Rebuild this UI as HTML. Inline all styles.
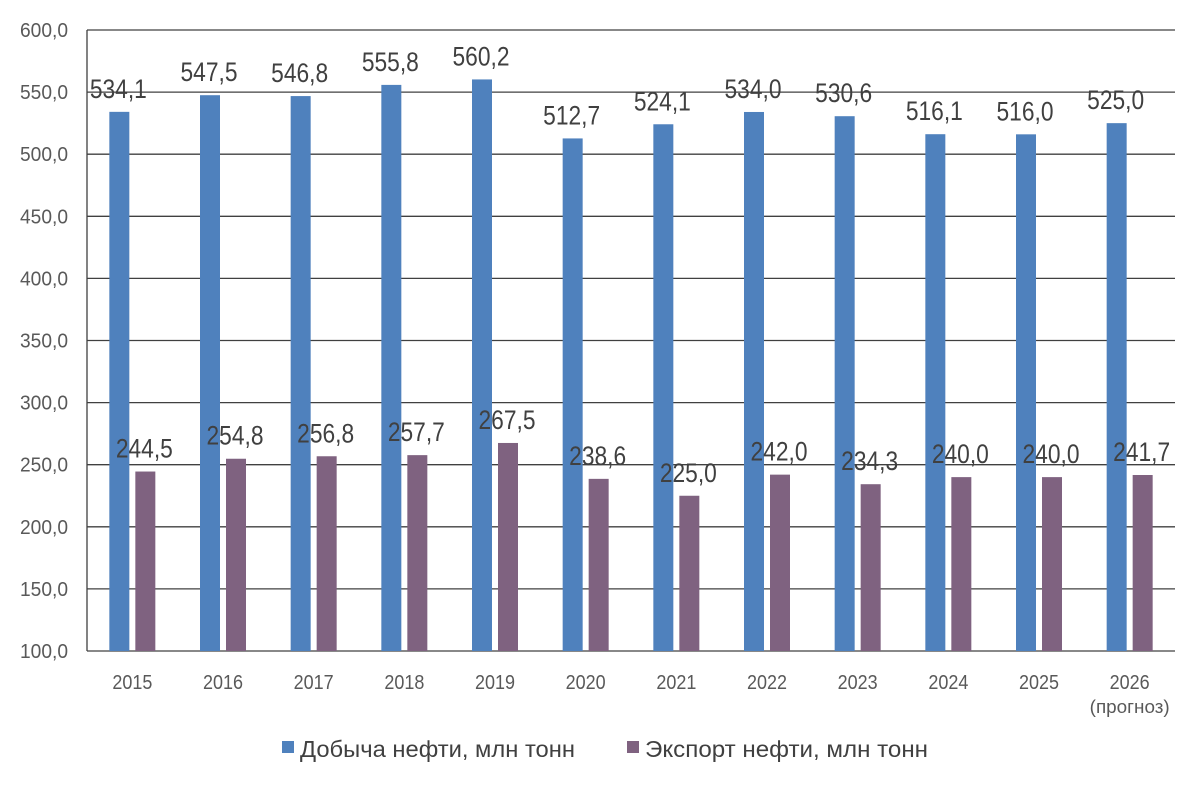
<!DOCTYPE html>
<html><head><meta charset="utf-8"><style>
html,body{margin:0;padding:0;background:#fff;}
svg{display:block;font-family:"Liberation Sans",sans-serif;}
</style></head><body>
<svg width="1200" height="790" xmlns="http://www.w3.org/2000/svg">
<g id="grid" stroke="#404040" stroke-width="1.3"></g>
<g id="bars"></g>
<g id="txt"></g>
<rect x="282" y="741" width="12" height="12" fill="#4f81bd"/>
<text x="300" y="757" font-size="23" fill="#404040" textLength="275" lengthAdjust="spacingAndGlyphs">Добыча нефти, млн тонн</text>
<rect x="627" y="741" width="12" height="12" fill="#7f6280"/>
<text x="645" y="757" font-size="23" fill="#404040" textLength="283" lengthAdjust="spacingAndGlyphs">Экспорт нефти, млн тонн</text>
<script>
var ns="http://www.w3.org/2000/svg";
function el(p,t,a,txt){var e=document.createElementNS(ns,t);for(var k in a)e.setAttribute(k,a[k]);if(txt)e.textContent=txt;document.getElementById(p).appendChild(e);return e;}
var L=87,R=1175,T=30,B=651;
function Y(v){return B-(v-100)*(B-T)/500;}
for(var v=100;v<=600;v+=50){var y=Y(v);el('grid','line',{x1:L,x2:R,y1:y,y2:y});
el('txt','text',{x:68,y:y+7,'font-size':20,fill:'#595959','text-anchor':'end',textLength:48,lengthAdjust:'spacingAndGlyphs'},v.toFixed(1).replace('.',','));}
el('grid','line',{x1:L,x2:L,y1:T,y2:B});
var p=[534.1,547.5,546.8,555.8,560.2,512.7,524.1,534.0,530.6,516.1,516.0,525.0];
var e=[244.5,254.8,256.8,257.7,267.5,238.6,225.0,242.0,234.3,240.0,240.0,241.7];
var w=(R-L)/12;
for(var i=0;i<12;i++){var c=L+w*i+w/2;
el('bars','rect',{x:c-23,y:Y(p[i]),width:20,height:B-Y(p[i]),fill:'#4f81bd'});
el('bars','rect',{x:c+3,y:Y(e[i]),width:20,height:B-Y(e[i]),fill:'#7f6280'});
el('txt','text',{x:c-14,y:Y(p[i])-14,'font-size':27,fill:'#404040','text-anchor':'middle',textLength:57,lengthAdjust:'spacingAndGlyphs'},p[i].toFixed(1).replace('.',','));
el('txt','text',{x:c+12,y:Y(e[i])-14,'font-size':27,fill:'#404040','text-anchor':'middle',textLength:57,lengthAdjust:'spacingAndGlyphs'},e[i].toFixed(1).replace('.',','));
el('txt','text',{x:c,y:689,'font-size':20,fill:'#595959','text-anchor':'middle',textLength:40,lengthAdjust:'spacingAndGlyphs'},String(2015+i));
}
el('txt','text',{x:L+w*11.5,y:713,'font-size':18,fill:'#595959','text-anchor':'middle',textLength:80,lengthAdjust:'spacingAndGlyphs'},'(прогноз)');
</script>
</svg>
</body></html>
